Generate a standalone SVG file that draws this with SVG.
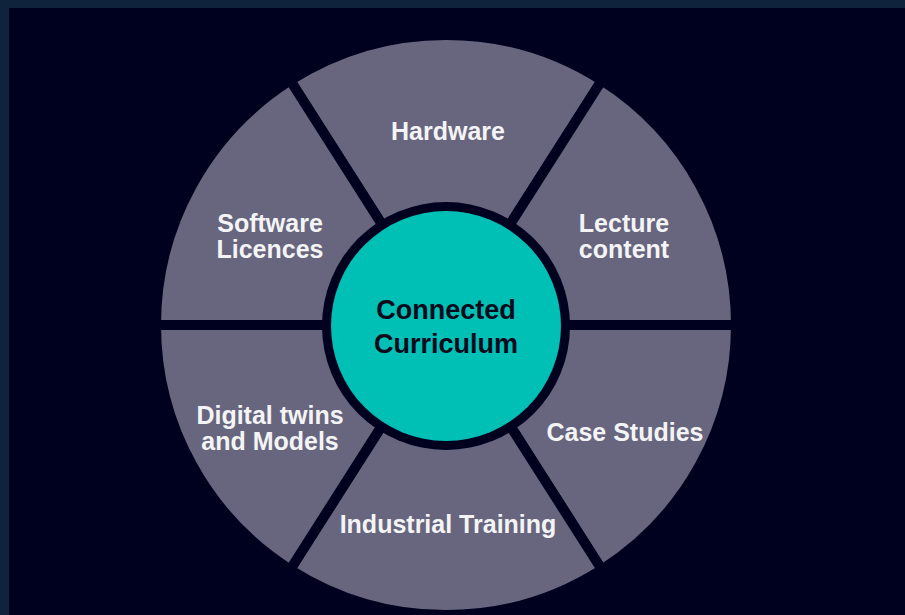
<svg xmlns="http://www.w3.org/2000/svg" width="905" height="615" viewBox="0 0 905 615">
<style>
.seg{fill:#67667e;stroke:#00001f;stroke-width:10;stroke-linejoin:miter}
.lbl{font-family:"Liberation Sans",Arial,sans-serif;font-weight:bold;font-size:25px;fill:#f4f4f6;text-anchor:middle}
.ctr{font-family:"Liberation Sans",Arial,sans-serif;font-weight:bold;font-size:27px;fill:#0a0a1c;text-anchor:middle}
</style>
<rect x="0" y="0" width="905" height="615" fill="#10233d"/>
<rect x="9" y="8" width="896" height="607" fill="#00001f"/>
<g id="hardware">
<path class="seg" d="M446 325 L290.2 80.4 A290 290 0 0 1 601.8 80.4 Z"/>
<text class="lbl" x="448" y="140">Hardware</text>
</g>
<g id="lecture-content">
<path class="seg" d="M446 325 L601.8 80.4 A290 290 0 0 1 736 325 Z"/>
<text class="lbl" x="624" y="232">Lecture</text>
<text class="lbl" x="624" y="258">content</text>
</g>
<g id="case-studies">
<path class="seg" d="M446 325 L736 325 A290 290 0 0 1 601.8 569.6 Z"/>
<text class="lbl" x="625" y="441">Case Studies</text>
</g>
<g id="industrial-training">
<path class="seg" d="M446 325 L601.8 569.6 A290 290 0 0 1 290.2 569.6 Z"/>
<text class="lbl" x="448" y="533">Industrial Training</text>
</g>
<g id="digital-twins">
<path class="seg" d="M446 325 L290.2 569.6 A290 290 0 0 1 156 325 Z"/>
<text class="lbl" x="270" y="424">Digital twins</text>
<text class="lbl" x="270" y="450">and Models</text>
</g>
<g id="software-licences">
<path class="seg" d="M446 325 L156 325 A290 290 0 0 1 290.2 80.4 Z"/>
<text class="lbl" x="270" y="232">Software</text>
<text class="lbl" x="270" y="258">Licences</text>
</g>
<g id="connected-curriculum">
<circle cx="446" cy="326" r="124" fill="#00001f"/>
<circle cx="446" cy="326" r="115" fill="#00bfb4"/>
<text class="ctr" x="446" y="319">Connected</text>
<text class="ctr" x="446" y="353">Curriculum</text>
</g>
</svg>
